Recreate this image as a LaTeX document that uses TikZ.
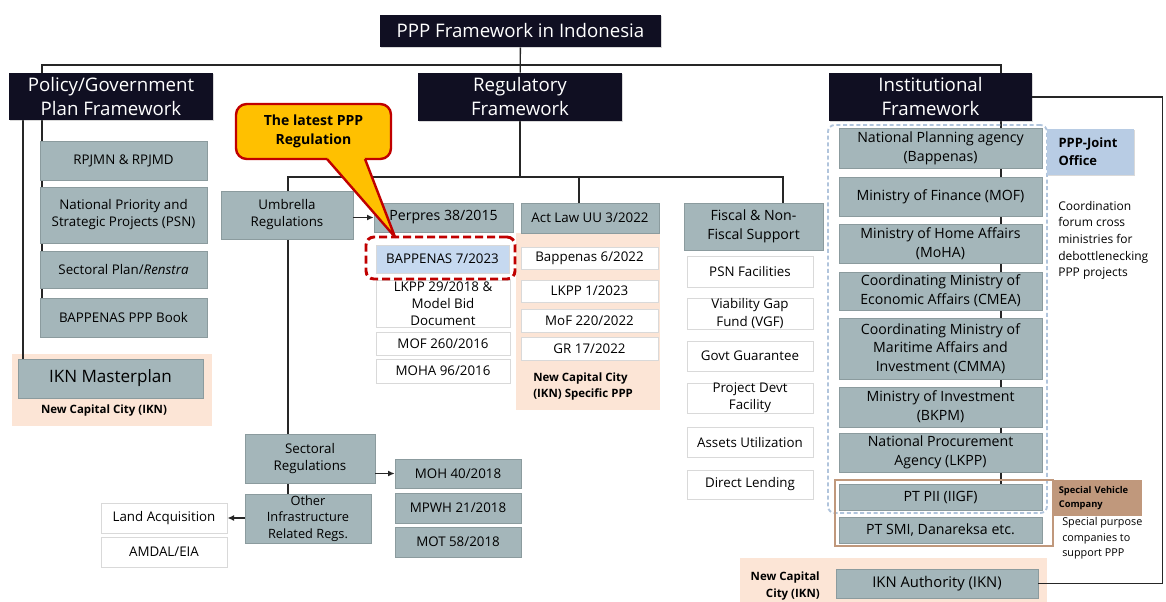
\documentclass[tikz,border=0pt]{standalone}
\usepackage{fontspec}
\setmainfont{Open Sans}
\usetikzlibrary{arrows.meta,backgrounds,shadows}
\definecolor{navy}{HTML}{100F22}
\definecolor{slate}{RGB}{164,182,186}
\definecolor{peach}{RGB}{252,229,214}
\definecolor{paleblue}{RGB}{198,217,240}
\definecolor{jointblue}{RGB}{184,204,228}
\definecolor{gold}{RGB}{255,192,0}
\definecolor{darkred}{RGB}{192,0,0}
\definecolor{tan}{RGB}{192,152,124}
\definecolor{dashblue}{RGB}{176,196,220}
\tikzset{wh/.style 2 args={minimum width=#1*.75pt, minimum height=#2*.75pt},
  shd/.style={drop shadow={shadow xshift=.9pt, shadow yshift=-.9pt, opacity=.3}},
  hdr/.style={shd, fill=navy, text=white, inner sep=0pt, align=center, font=\fontsize{14}{18}\selectfont},
  gbox/.style={shd, fill=slate, draw=slate!85!black, line width=.5pt, inner sep=0pt, align=center, font=\fontsize{10}{12.8}\selectfont},
  wbox/.style={shd, fill=white, draw=black!15, line width=.6pt, inner sep=0pt, align=center, font=\fontsize{10}{12.8}\selectfont},
  bigtxt/.style={font=\fontsize{10.6}{14}\selectfont},
  lbl/.style={inner sep=0pt, font=\bfseries\fontsize{8.6}{12.5}\selectfont},
  wire/.style={draw=black!85, line width=1pt},
  arr/.style={wire, -{Latex[length=5pt, width=4.5pt]}}}
\begin{document}
\begin{tikzpicture}[x=.75pt, y=-.75pt]
  \useasboundingbox (0,0) rectangle (1166,602);
  \node[hdr, wh={281}{32}] (title) at (520.5,31) {PPP Framework in Indonesia};
  \node[hdr, wh={204}{47}] (policy) at (111,96.5) {Policy/Government\\Plan Framework};
  \node[hdr, wh={204}{48}] (regul) at (520,97) {Regulatory\\Framework};
  \node[hdr, wh={203}{48}] (instit) at (930.5,97) {Institutional\\Framework};

  \node[gbox, wh={167}{39}] (rpjmn) at (123.5,160.5) {RPJMN \& RPJMD};
  \node[gbox, wh={167}{56}] (psn) at (123.5,215) {National Priority and\\Strategic Projects (PSN)};
  \node[gbox, wh={167}{37}] (renstra) at (123.5,269.5) {Sectoral Plan/\textit{Renstra}};
  \node[gbox, wh={167}{39}] (ppbook) at (123.5,317.5) {BAPPENAS PPP Book};
  \node[gbox, wh={185}{39}, font=\fontsize{12.8}{15}\selectfont] (iknmp) at (110.5,378.5) {IKN Masterplan};

  \node[gbox, wh={132}{48}] (umbrella) at (287,215) {Umbrella\\Regulations};
  \node[gbox, bigtxt, wh={139}{29}] (perpres) at (443.5,217.5) {Perpres 38/2015};
  \node[gbox, wh={138}{30}] (actlaw) at (590,218) {Act Law UU 3/2022};
  \node[gbox, bigtxt, wh={139}{47}] (fiscal) at (753.5,226.5) {Fiscal \& Non-\\Fiscal Support};

  \node[wbox, fill=paleblue, wh={133}{28}] (bap7) at (442.5,259) {BAPPENAS 7/2023};
  \node[wbox, wh={134}{47}] (lkpp29) at (443,303.5) {LKPP 29/2018 \&\\Model Bid\\Document};
  \node[wbox, wh={134}{23}] (mof260) at (443,343.5) {MOF 260/2016};
  \node[wbox, wh={134}{24}] (moha96) at (443,371) {MOHA 96/2016};
  \node[wbox, wh={137}{22}] (bap6) at (589.5,258) {Bappenas 6/2022};
  \node[wbox, wh={137}{22}] (lkpp1) at (589.5,291) {LKPP 1/2023};
  \node[wbox, wh={137}{23}] (mof220) at (589.5,320.5) {MoF 220/2022};
  \node[wbox, wh={137}{23}] (gr17) at (589.5,348.5) {GR 17/2022};

  \node[wbox, wh={126}{31}] (psnfac) at (750,271.5) {PSN Facilities};
  \node[wbox, wh={126}{31}] (vgf) at (750,313.5) {Viability Gap\\Fund (VGF)};
  \node[wbox, wh={126}{30}] (guar) at (750,356) {Govt Guarantee};
  \node[wbox, wh={126}{30}] (pdf) at (750,398) {Project Devt\\Facility};
  \node[wbox, wh={126}{30}] (assets) at (750,442) {Assets Utilization};
  \node[wbox, wh={126}{29}] (lending) at (750,484.5) {Direct Lending};

  \node[gbox, wh={130}{49}] (sectoral) at (310,458.5) {Sectoral\\Regulations};
  \node[gbox, wh={126}{49}, font=\fontsize{9.6}{12.4}\selectfont] (otherreg) at (308,518.5) {Other\\Infrastructure\\Related Regs.};
  \node[gbox, wh={126}{29}] (moh) at (458,473.5) {MOH 40/2018};
  \node[gbox, wh={126}{30}] (mpwh) at (458,508) {MPWH 21/2018};
  \node[gbox, wh={126}{30}] (mot) at (458,542) {MOT 58/2018};
  \node[wbox, wh={126}{30}] (land) at (164,518) {Land Acquisition};
  \node[wbox, wh={126}{30}] (amdal) at (164,552) {AMDAL/EIA};

  \node[gbox, bigtxt, wh={203}{40}] (bappenas) at (940.5,148) {National Planning agency\\(Bappenas)};
  \node[gbox, bigtxt, wh={203}{39}] (mof) at (940.5,196.5) {Ministry of Finance (MOF)};
  \node[gbox, bigtxt, wh={203}{39}] (moha) at (940.5,243.5) {Ministry of Home Affairs\\(MoHA)};
  \node[gbox, bigtxt, wh={203}{38}] (cmea) at (940.5,291) {Coordinating Ministry of\\Economic Affairs (CMEA)};
  \node[gbox, bigtxt, wh={203}{61}] (cmma) at (940.5,348.5) {Coordinating Ministry of\\Maritime Affairs and\\Investment (CMMA)};
  \node[gbox, bigtxt, wh={203}{40}] (bkpm) at (940.5,407) {Ministry of Investment\\(BKPM)};
  \node[gbox, bigtxt, wh={203}{39}] (lkpp) at (940.5,452.5) {National Procurement\\Agency (LKPP)};
  \node[gbox, bigtxt, wh={203}{26}] (ptpii) at (940.5,497) {PT PII (IIGF)};
  \node[gbox, bigtxt, wh={203}{26}] (ptsmi) at (940.5,530) {PT SMI, Danareksa etc.};
  \node[gbox, wh={202}{29}, font=\fontsize{11.1}{14}\selectfont] (iknauth) at (937,583.5) {IKN Authority (IKN)};

  \node[draw=dashblue, dash pattern=on 3pt off 2pt, line width=1.4pt, rounded corners=5pt, wh={219}{388}] (instframe) at (937.5,319) {};
  \node[draw=tan, line width=1.5pt, wh={218}{66}] (svcframe) at (944,513) {};
  \node[fill=tan, wh={89}{36}, text width=58pt, inner xsep=4.4pt, align=left, font=\bfseries\fontsize{7}{10}\selectfont] (svc) at (1097.5,498) {Special Vehicle\\Company};
  \node[anchor=west, inner sep=0pt, align=left, font=\fontsize{8.1}{11.5}\selectfont] (svctxt) at (1062,538.5) {Special purpose\\companies to\\support PPP};
  \node[shd, fill=jointblue, wh={87}{46}, text width=48pt, inner xsep=8.6pt, align=left, font=\bfseries\fontsize{9.7}{13.5}\selectfont] (joint) at (1090.5,152) {PPP-Joint\\Office};
  \node[anchor=west, inner sep=0pt, align=left, font=\fontsize{9}{12.5}\selectfont] (jointtxt) at (1058,240.5) {Coordination\\forum cross\\ministries for\\debottlenecking\\PPP projects};

  \node[lbl] (ikn1) at (104,411) {New Capital City (IKN)};
  \node[lbl, anchor=west, align=left] (ikn2) at (533,386.5) {New Capital City\\(IKN) Specific PPP};
  \node[lbl, anchor=east, align=right] (ikn3) at (820,586) {New Capital\\City (IKN)};

  \begin{scope}[on background layer]
    \fill[peach] (12,354) rectangle (212,426);
    \fill[peach] (516,233) rectangle (660,410);
    \fill[peach] (740,558) rectangle (1047,602);
    \coordinate (pl) at (42,65);
    \coordinate (ins) at (1001,65);
    \coordinate (pd) at (23,0);
    \coordinate (rl) at (288,177);
    \coordinate (ra) at (579,177);
    \coordinate (rr) at (783,177);
    \draw[wire] (title) -- (regul);
    \draw[wire] (pl |- ppbook.north) -- (pl) -- (ins) -- (ins |- ptpii.north);
    \draw[wire] (pd |- policy.south) -- (pd |- iknmp.north);
    \draw[wire] (regul) -- (regul |- rl);
    \draw[wire] (rl |- otherreg.north) -- (rl) -- (rr) -- (rr |- fiscal.north);
    \draw[wire] (ra) -- (ra |- actlaw.north);
  \end{scope}

  \draw[arr] (umbrella.east |- perpres.west) -- (perpres.west);
  \draw[arr] (sectoral.east |- moh.west) -- (moh.west);
  \draw[arr] (otherreg.west |- land.east) -- (land.east);
  \draw[wire] (instit.east) -- ++(130,0) |- (iknauth.east);

  \node[draw=darkred, dash pattern=on 6pt off 3pt, line width=2.2pt, rounded corners=6pt, wh={149}{42}] (bapframe) at (440.5,258) {};
  \node[fill=gold, draw=darkred, line width=1.8pt, rounded corners=8pt, wh={155}{55}, align=center, font=\bfseries\fontsize{10.5}{14}\selectfont] (note) at (313.5,131.5) {The latest PPP\\Regulation};
  \coordinate (tip) at (395,237);
  \fill[gold] (327,159) -- (tip) -- (365,159) -- (363,154) -- (329,154) -- cycle;
  \draw[darkred, line width=1.8pt, line join=round] (327,159) -- (tip) -- (365,159);
\end{tikzpicture}
\end{document}
